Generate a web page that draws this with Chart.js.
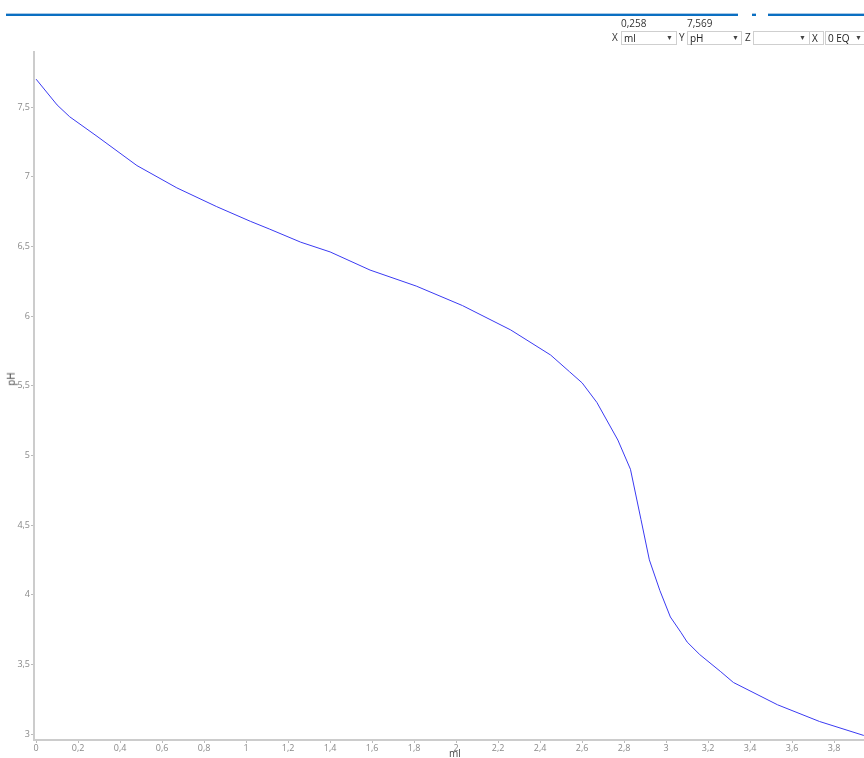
<!DOCTYPE html>
<html lang="en">

<head>
  <meta charset="UTF-8">
  <title>pH ml</title>
  <script src="https://cdn.jsdelivr.net/npm/chart.js@4.4.1/dist/chart.umd.min.js"></script>
  <style>
    body {
      margin: 0;
      background-color: #ffffff;
      width: 864px;
      height: 758px;
      overflow: hidden;
      position: relative;
    }

    * {
      font-family: 'Open Sans', 'Noto Sans', sans-serif;
    }

    #chart-box {
      position: absolute;
      left: 0;
      top: 0;
      width: 864px;
      height: 758px;
    }

    .bar {
      position: absolute;
      top: 13px;
      height: 2px;
      background-color: #0a6fc2;
      border-top: 1px solid #a9c9e6;
    }

    .lbl {
      position: absolute;
      font-size: 10px;
      color: #333;
      line-height: 12px;
    }

    .sel {
      position: absolute;
      top: 31px;
      height: 12px;
      border: 1px solid #cfcfcf;
      font-size: 10px;
      line-height: 12px;
      color: #222;
      padding-left: 2px;
      box-sizing: content-box;
    }

    .arr {
      position: absolute;
      top: 0;
      font-size: 7px;
      color: #444;
    }

    .axis-title {
      position: absolute;
      font-size: 10px;
      line-height: 10px;
      color: #444;
    }
  </style>
</head>

<body>
  <div id="chart-box"><canvas id="myChart" width="864" height="758"></canvas></div>

  <div class="bar" style="left:6px;width:732px;"></div>
  <div class="bar" style="left:752px;width:4px;"></div>
  <div class="bar" style="left:768px;width:96px;"></div>

  <div class="lbl" style="left:621px;top:17px;">0,258</div>
  <div class="lbl" style="left:687px;top:17px;">7,569</div>

  <div class="lbl" style="left:612px;top:31px;">X</div>
  <div class="sel" style="left:621px;width:52px;">ml<span class="arr" style="left:44px;">&#9660;</span></div>
  <div class="lbl" style="left:679px;top:31px;">Y</div>
  <div class="sel" style="left:687px;width:51px;">pH<span class="arr" style="left:44px;">&#9660;</span></div>
  <div class="lbl" style="left:745px;top:31px;">Z</div>
  <div class="sel" style="left:753px;width:53px;"><span class="arr" style="left:45px;">&#9660;</span></div>
  <div class="sel" style="left:809px;width:11px;">X</div>
  <div class="sel" style="left:825px;width:45px;">0 EQ<span class="arr" style="left:29px;">&#9660;</span></div>

  <div class="axis-title" style="left:449px;top:748px;">ml</div>
  <div class="axis-title" style="left:4px;top:374px;transform:rotate(-90deg);">pH</div>

  <script>
    // values
    const mlValues = [0, 0.1, 0.16, 0.29, 0.48, 0.67, 0.86, 1.02, 1.11, 1.26, 1.4, 1.59, 1.81, 2.03, 2.26, 2.45, 2.54,
      2.6, 2.67, 2.77, 2.83, 2.88, 2.92, 2.97, 3.02, 3.07, 3.1, 3.16, 3.26, 3.32, 3.53, 3.73, 3.94, 4.0]
    const phValues = [7.70, 7.515, 7.43, 7.29, 7.08, 6.92, 6.785, 6.68, 6.625, 6.53, 6.46, 6.33, 6.215, 6.075, 5.90, 5.72, 5.60,
      5.52, 5.38, 5.11, 4.90, 4.54, 4.25, 4.03, 3.84, 3.73, 3.66, 3.57, 3.447, 3.37, 3.21, 3.09, 2.99, 2.965]
    const xTicks = [0, 0.2, 0.4, 0.6, 0.8, 1, 1.2, 1.4, 1.6, 1.8, 2, 2.2, 2.4, 2.6, 2.8, 3, 3.2, 3.4, 3.6, 3.8]
    const yTicks = [3, 3.5, 4, 4.5, 5, 5.5, 6, 6.5, 7, 7.5]

    const points = mlValues.map((v, i) => ({ x: v, y: phValues[i] }))
    const fmt = v => String(v).replace('.', ',')
    const tickFont = { family: "'Open Sans', 'Noto Sans', sans-serif", size: 9 }

    const ctx = document.getElementById("myChart").getContext('2d')
    const myChart = new Chart(ctx, {
      type: 'line',
      data: {
        datasets: [{
          label: 'pH',
          data: points,
          borderColor: "#3a3af2",
          borderWidth: 1,
          pointRadius: 0,
          tension: 0,
          fill: false
        }]
      },
      options: {
        responsive: false,
        animation: false,
        layout: { padding: { top: 52, right: 0, left: 0, bottom: 0 } },
        plugins: { legend: { display: false }, tooltip: { enabled: false } },
        scales: {
          x: {
            type: 'linear',
            min: -0.01,
            max: 3.942,
            afterBuildTicks: s => { s.ticks = xTicks.map(v => ({ value: v })) },
            afterFit: s => { s.height = 18 },
            grid: { drawOnChartArea: false, tickLength: 3, color: '#bbbbbb' },
            border: { color: '#cccccc', width: 2 },
            ticks: { callback: v => fmt(v), color: '#8a8a8a', font: tickFont, padding: 0, maxRotation: 0, autoSkip: false }
          },
          y: {
            type: 'linear',
            min: 2.957,
            max: 7.895,
            afterBuildTicks: s => { s.ticks = yTicks.map(v => ({ value: v })) },
            afterFit: s => { s.width = 34 },
            grid: { drawOnChartArea: false, tickLength: 3, color: '#bbbbbb' },
            border: { color: '#cccccc', width: 2 },
            ticks: { callback: v => fmt(v), color: '#8a8a8a', font: tickFont, padding: 1, autoSkip: false }
          }
        }
      }
    })
  </script>
</body>

</html>
